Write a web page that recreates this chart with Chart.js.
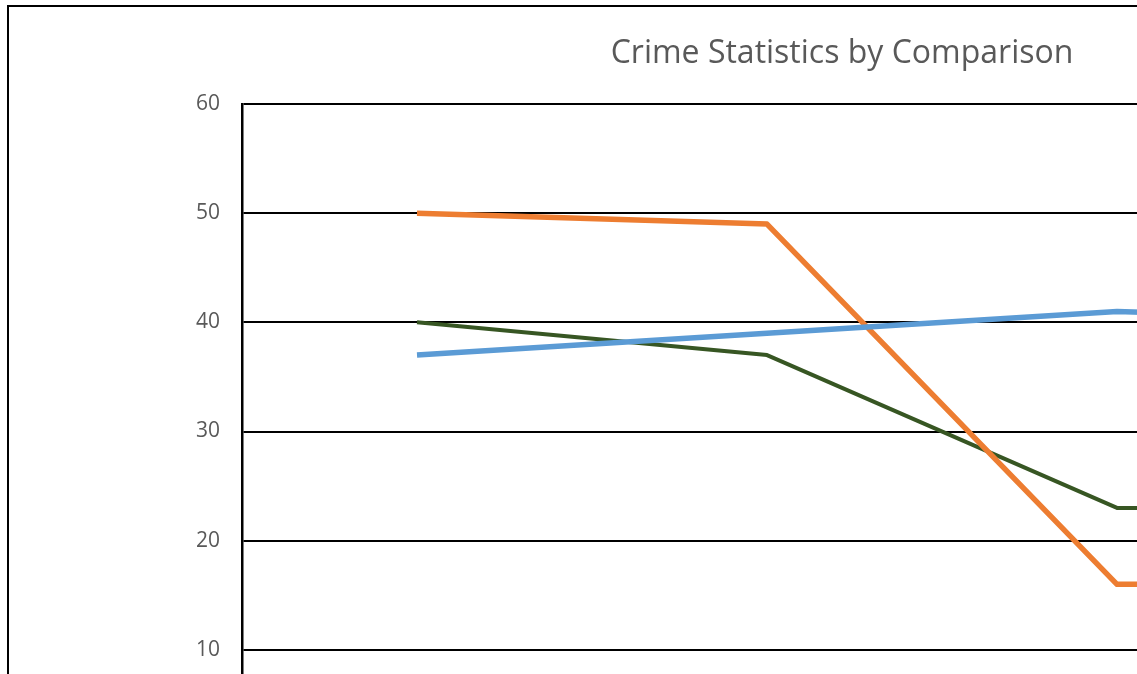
<!DOCTYPE html>
<html>
<head>
<meta charset="utf-8">
<title>Crime Statistics by Comparison</title>
<script src="https://cdn.jsdelivr.net/npm/chart.js@4.4.1/dist/chart.umd.min.js"></script>
<style>
    html, body { margin: 0; padding: 0; overflow: hidden; background: #fff; }
    #crime-canvas { display: block; }
</style>
</head>
<body>
<canvas id="crime-canvas"></canvas>
<script>
const categories = ['Category 1', 'Category 2', 'Category 3', 'Category 4']
const seriesA = [37, 39, 41, 40]
const seriesB = [50, 49, 16, 16]
const seriesC = [40, 37, 23, 23]
const yTicks = [0, 10, 20, 30, 40, 50, 60]

const crimeCanvas = document.querySelector('#crime-canvas')
const W = 1684
const H = 840
crimeCanvas.width = W
crimeCanvas.height = H
crimeCanvas.style.width = W + 'px'
crimeCanvas.style.height = H + 'px'

const labelColor = '#595959'

// outer chart border, like the office chart frame
const frame = {
    id: 'frame',
    beforeDraw(chart) {
        const { ctx } = chart
        ctx.save()
        ctx.fillStyle = '#fff'
        ctx.fillRect(0, 0, chart.width, chart.height)
        ctx.strokeStyle = '#000'
        ctx.lineWidth = 2
        ctx.strokeRect(8, 6, chart.width - 16, chart.height - 12)
        ctx.restore()
    }
}

new Chart(crimeCanvas, {
    type: 'line',
    plugins: [frame],
    data: {
        labels: categories,
        datasets: [
            { label: 'Series 1', data: seriesA, borderColor: '#5B9BD5', borderWidth: 5.5 },
            { label: 'Series 2', data: seriesB, borderColor: '#ED7D31', borderWidth: 5.5 },
            { label: 'Series 3', data: seriesC, borderColor: '#375623', borderWidth: 4 }
        ]
    },
    options: {
        responsive: false,
        animation: false,
        devicePixelRatio: 1,
        layout: { padding: { left: 42, right: 42, top: 0, bottom: 0 } },
        elements: {
            point: { radius: 0 },
            line: { tension: 0, borderJoinStyle: 'round', borderCapStyle: 'butt', fill: false }
        },
        plugins: {
            legend: { display: false },
            tooltip: { enabled: false },
            title: {
                display: true,
                text: 'Crime Statistics by Comparison',
                color: labelColor,
                font: { family: 'Open Sans', size: 32, weight: 'normal', lineHeight: 1.2 },
                padding: { top: 35, bottom: 30.6 }
            }
        },
        scales: {
            x: {
                offset: true,
                grid: { display: false },
                border: { display: true, color: '#000', width: 2 },
                ticks: { color: labelColor, font: { family: 'Open Sans', size: 22 } },
                afterFit(scale) { scale.height = H - 759 }
            },
            y: {
                min: 0,
                max: 60,
                afterBuildTicks(scale) { scale.ticks = yTicks.map(v => ({ value: v })) },
                grid: { color: '#000', lineWidth: 2, drawTicks: false },
                border: { display: true, color: '#000', width: 2.5 },
                ticks: {
                    color: labelColor,
                    padding: 22,
                    font: { family: 'Open Sans', size: 21 }
                },
                afterFit(scale) { scale.width = 200 }
            }
        }
    }
})
</script>
</body>
</html>
